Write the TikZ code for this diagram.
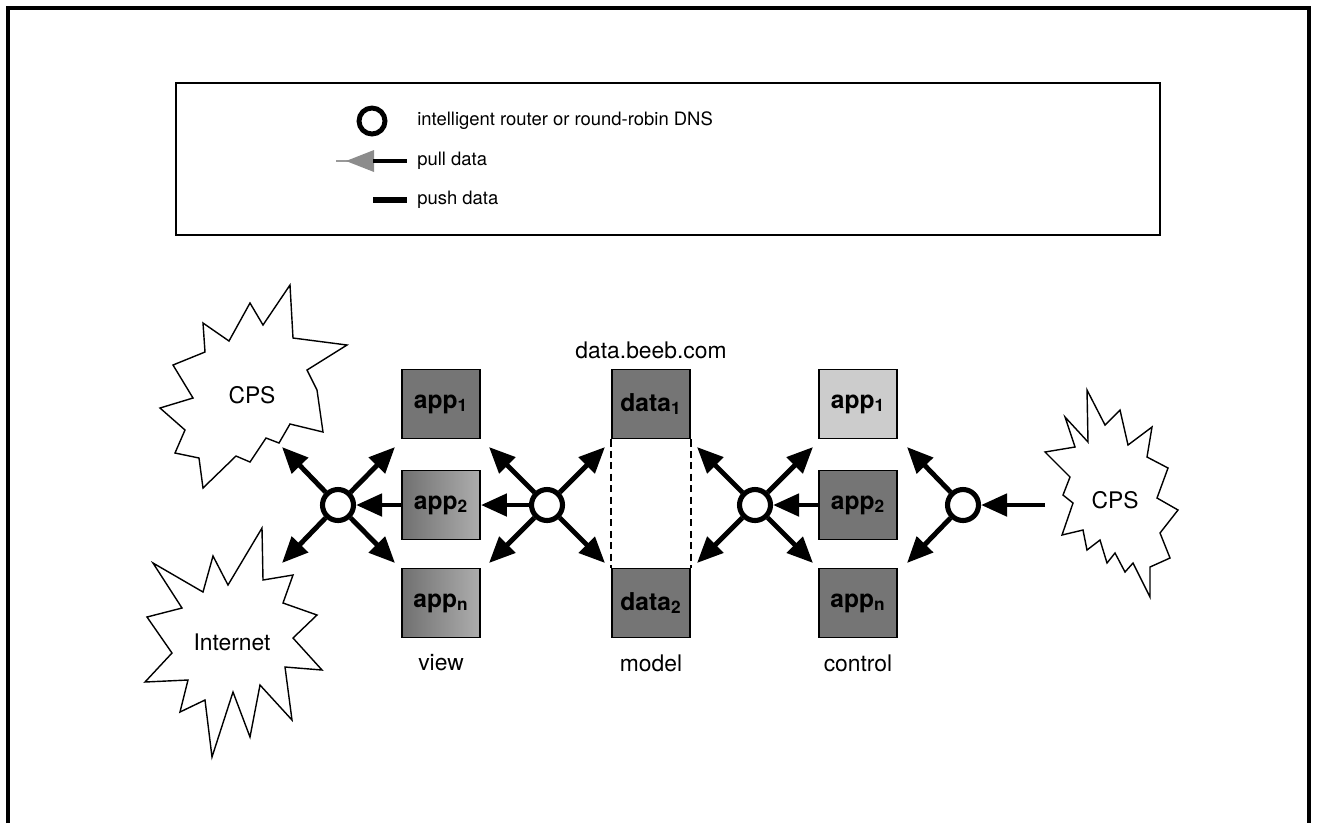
\documentclass[tikz,border=0pt]{standalone}
\usepackage{fontspec}
\setmainfont{TeX Gyre Heros}
\usetikzlibrary{arrows.meta}

\tikzset{
  arr/.style={line width=2.8pt, -{Triangle[length=0.52cm,width=0.44cm]}},
  router/.style={circle, draw, line width=2.9pt, minimum size=0.62cm, inner sep=0pt, fill=white},
  srv/.style={draw, line width=1.1pt, minimum width=1.56cm, minimum height=1.38cm,
              inner sep=0pt, font=\fontsize{14}{16}\selectfont\bfseries},
  darkbox/.style={srv, fill=black!54},
  shadedbox/.style={srv, left color=black!56, right color=black!32},
  lightbox/.style={srv, fill=black!20},
  lbl/.style={font=\fontsize{13}{15}\selectfont, inner sep=1pt},
  legendtxt/.style={font=\fontsize{10.5}{12}\selectfont, anchor=west, inner sep=0pt},
  burst/.style={draw, line width=0.8pt, line join=miter, fill=white},
  sep/.style={line width=1pt, dash pattern=on 4pt off 2.5pt},
}

\begin{document}
\begin{tikzpicture}[x=0.02cm, y=-0.02cm]
\useasboundingbox (0,0) rectangle (1317,823);

% outer frame (open at the bottom)
\draw[line width=1.9pt] (8,823) -- (8,8) -- (1309,8) -- (1309,823);

% ---------------- legend ----------------
\draw[line width=1.1pt] (176,83) rectangle (1160,235);
\node[circle, draw, line width=2.8pt, minimum size=0.52cm, inner sep=0pt] (legcirc) at (372,121) {};
\node[legendtxt] (legA) at (417,121) {intelligent router or round-robin DNS};
% pull data: grey head, black shaft
\draw[black!40, line width=0.6pt] (336,161) -- (350,161);
\fill[black!45] (346,161) -- (374,150) -- (374,172) -- cycle;
\draw[line width=2.8pt] (373,161) -- (407,161);
\node[legendtxt] (legB) at (417,161) {pull data};
% push data
\draw[line width=3.2pt] (373,200) -- (407,200);
\node[legendtxt] (legC) at (417,200) {push data};

% ---------------- clouds ----------------
\draw[burst] (203,323) -- (229,341) -- (250,303) -- (263,325) -- (290,285) -- (293,338)
  -- (347,345) -- (307,370) -- (317,390) -- (323,432) -- (290,424) -- (279,443)
  -- (266,438) -- (250,462) -- (236,456) -- (203,488) -- (199,458) -- (175,453)
  -- (185,430) -- (160,408) -- (193,398) -- (173,365) -- (205,352) -- cycle;
\node[lbl] (cpsL) at (252,395) {CPS};

\draw[burst] (153,563) -- (203,592) -- (213,556) -- (228,585) -- (262,528) -- (263,580)
  -- (293,575) -- (283,603) -- (317,615) -- (293,638) -- (322,670) -- (285,667)
  -- (292,720) -- (260,685) -- (250,737) -- (233,692) -- (212,757) -- (205,700)
  -- (180,712) -- (188,680) -- (145,682) -- (172,653) -- (147,617) -- (182,608) -- cycle;
\node[lbl] (inet) at (232,642) {Internet};

\draw[burst] (1087,390) -- (1105,425) -- (1120,410) -- (1128,445) -- (1152,427) -- (1147,457)
  -- (1168,468) -- (1157,498) -- (1178,510) -- (1160,533) -- (1170,558) -- (1150,567)
  -- (1150,597) -- (1133,563) -- (1125,572) -- (1115,553) -- (1107,563) -- (1100,540)
  -- (1087,550) -- (1083,530) -- (1062,535) -- (1073,503) -- (1063,495) -- (1070,477)
  -- (1045,452) -- (1075,447) -- (1065,417) -- (1088,442) -- cycle;
\node[lbl] (cpsR) at (1115,500) {CPS};
\coordinate (cpsRout) at (1045,505);

% ---------------- servers ----------------
\node[darkbox]   (va1) at (441,404) {app\textsubscript{1}};
\node[shadedbox] (va2) at (441,505) {app\textsubscript{2}};
\node[shadedbox] (van) at (441,603) {app\textsubscript{n}};

\node[darkbox] (md1) at (651,404) {data\textsubscript{1}};
\node[darkbox] (md2) at (651,603) {data\textsubscript{2}};
\draw[sep] (md1.south west) -- (md2.north west);
\draw[sep] (md1.south east) -- (md2.north east);

\node[lightbox] (ca1) at (858,404) {app\textsubscript{1}};
\node[darkbox]  (ca2) at (858,505) {app\textsubscript{2}};
\node[darkbox]  (can) at (858,603) {app\textsubscript{n}};

\node[lbl] (ttl)   at (651,350) {data.beeb.com};
\node[lbl] (lview) at (441,663) {view};
\node[lbl] (lmod)  at (651,663) {model};
\node[lbl] (lctl)  at (858,663) {control};

% ---------------- routers ----------------
\node[router] (r1) at (338,505) {};
\node[router] (r2) at (547,505) {};
\node[router] (r3) at (755,505) {};
\node[router] (r4) at (963,505) {};

\coordinate (r1a) at (282,447); \coordinate (r1b) at (395,447);
\coordinate (r1c) at (282,563); \coordinate (r1d) at (395,563);
\coordinate (r2a) at (489,447); \coordinate (r2b) at (605,447);
\coordinate (r2c) at (489,563); \coordinate (r2d) at (605,563);
\coordinate (r3a) at (697,447); \coordinate (r3b) at (813,447);
\coordinate (r3c) at (697,563); \coordinate (r3d) at (813,563);
\coordinate (r4a) at (907,447); \coordinate (r4c) at (907,563);

\foreach \r in {r1,r2,r3}{
  \foreach \t in {a,b,c,d}{ \draw[arr] (\r) -- (\r\t); }
}
\draw[arr] (r4) -- (r4a);
\draw[arr] (r4) -- (r4c);

\draw[arr] (va2) -- (r1);
\draw[arr] (r2) -- (va2);
\draw[arr] (ca2) -- (r3);
\draw[arr] (cpsRout) -- (r4);
\end{tikzpicture}
\end{document}
